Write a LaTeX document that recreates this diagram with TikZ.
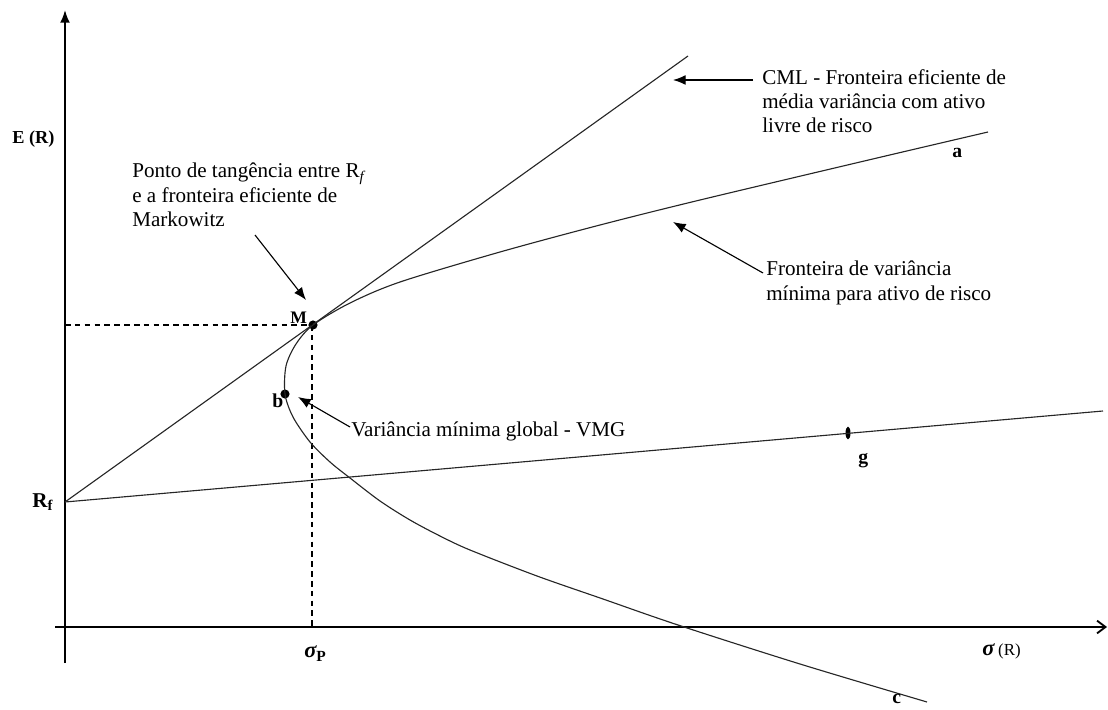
\documentclass[tikz,border=0pt]{standalone}
\usepackage{fontspec}
\setmainfont{Liberation Serif}
\usetikzlibrary{arrows.meta,shapes.geometric}

\begin{document}
\begin{tikzpicture}[
		x=0.025cm, y=-0.025cm,
		axis/.style={line width=1.3pt},
		curve/.style={line width=0.8pt, black!85},
		guide/.style={line width=0.8pt, dash pattern=on 4pt off 3pt},
		pointer/.style={line width=0.8pt, -{Latex[length=9pt,width=7pt]}},
		note/.style={align=left, anchor=north west, inner sep=0pt,
				font=\fontsize{15}{17.2}\selectfont},
		tag/.style={anchor=base west, inner sep=0pt,
				font=\fontsize{14}{16}\selectfont\bfseries},
		dot/.style={circle, fill, inner sep=0pt, minimum size=6.5pt}
	]
	\useasboundingbox (0,0) rectangle (1108,709);

	% axes
	\coordinate (ytop) at (65,10);
	\coordinate (ybot) at (65,663);
	\coordinate (xleft) at (55,627);
	\coordinate (xright) at (1107,627);
	\draw[axis, -{Latex[length=9pt,width=7pt]}] (ybot) -- (ytop);
	\draw[axis, -{Straight Barb[length=6pt,width=9pt]}] (xleft) -- (xright);

	% points
	\coordinate (Rf) at (65,502);
	\coordinate (cmlend) at (688,56);
	\coordinate (gend) at (1103,411);
	\node[dot] (M) at (313,325) {};
	\node[dot] (b) at (285,394) {};
	\node[ellipse, fill, inner sep=0pt, minimum width=3.5pt, minimum height=9pt] (g) at (848,433) {};
	\coordinate (Ey) at (65,325);
	\coordinate (sx) at (312,627);

	% lines
	\draw[curve] (Rf) -- (cmlend);
	\draw[curve] (Rf) -- (gend);
	\draw[guide] (Ey) -- (M.center);
	\draw[guide] (312,325) -- (sx);

	% frontier
	\draw[curve] plot[smooth] coordinates {
			(988,132) (877,158) (700,200) (600,225) (500,252) (400,282)
			(350,303) (313,325) (296,344) (286,366) (285,394) (293,417)
			(310,442) (330,462) (350,478) (380,501) (410,520) (440,536)
			(470,550) (537,576) (603,599) (678,625) (800,664) (927,702)};

	% labels
	\node[tag, font=\fontsize{13}{15}\selectfont\bfseries] (ER) at (12,144) {E (R)};
	\node[tag, font=\fontsize{15}{17}\selectfont\bfseries] (Rflbl) at (32,507) {R\textsubscript{f}};
	\node[tag, font=\fontsize{12.5}{14}\selectfont\bfseries] (Mlbl) at (290,323) {M};
	\node[tag] (blbl) at (272,407) {b};
	\node[tag] (albl) at (952,158) {a};
	\node[tag] (glbl) at (858,463) {g};
	\node[tag] (clbl) at (892,703) {c};
	\node[tag, font=\fontsize{16}{18}\selectfont\bfseries\itshape] (sigp) at (304,657)
	{σ\raisebox{-0.45ex}{\fontsize{11}{12}\selectfont\upshape P}};
	\node[tag, font=\fontsize{16}{18}\selectfont\bfseries\itshape] (sigr) at (982,655)
	{σ\,{\fontsize{12}{14}\selectfont\mdseries\upshape (R)}};

	% notes
	\node[note] (tangtxt) at (132,163) {Ponto de tangência entre R\textsubscript{\itshape f}\\e a fronteira eficiente de\\Markowitz};
	\node[note] (cmltxt) at (762,69) {CML - Fronteira eficiente de\\média variância com ativo\\livre de risco};
	\node[note] (frtxt) at (766,261) {Fronteira de variância\\mínima para ativo de risco};
	\node[note] (vmgtxt) at (351,422) {Variância mínima global - VMG};

	% pointers
	\coordinate (tangtail) at (255,235);
	\coordinate (tanghead) at (306,300);
	\coordinate (cmltail) at (753,80);
	\coordinate (cmlhead) at (673,80);
	\coordinate (frtail) at (763,273);
	\coordinate (frhead) at (673,222);
	\coordinate (vmgtail) at (350,427);
	\coordinate (vmghead) at (298,397);
	\draw[pointer] (tangtail) -- (tanghead);
	\draw[pointer] (cmltail) -- (cmlhead);
	\draw[pointer] (frtail) -- (frhead);
	\draw[pointer] (vmgtail) -- (vmghead);
\end{tikzpicture}
\end{document}
